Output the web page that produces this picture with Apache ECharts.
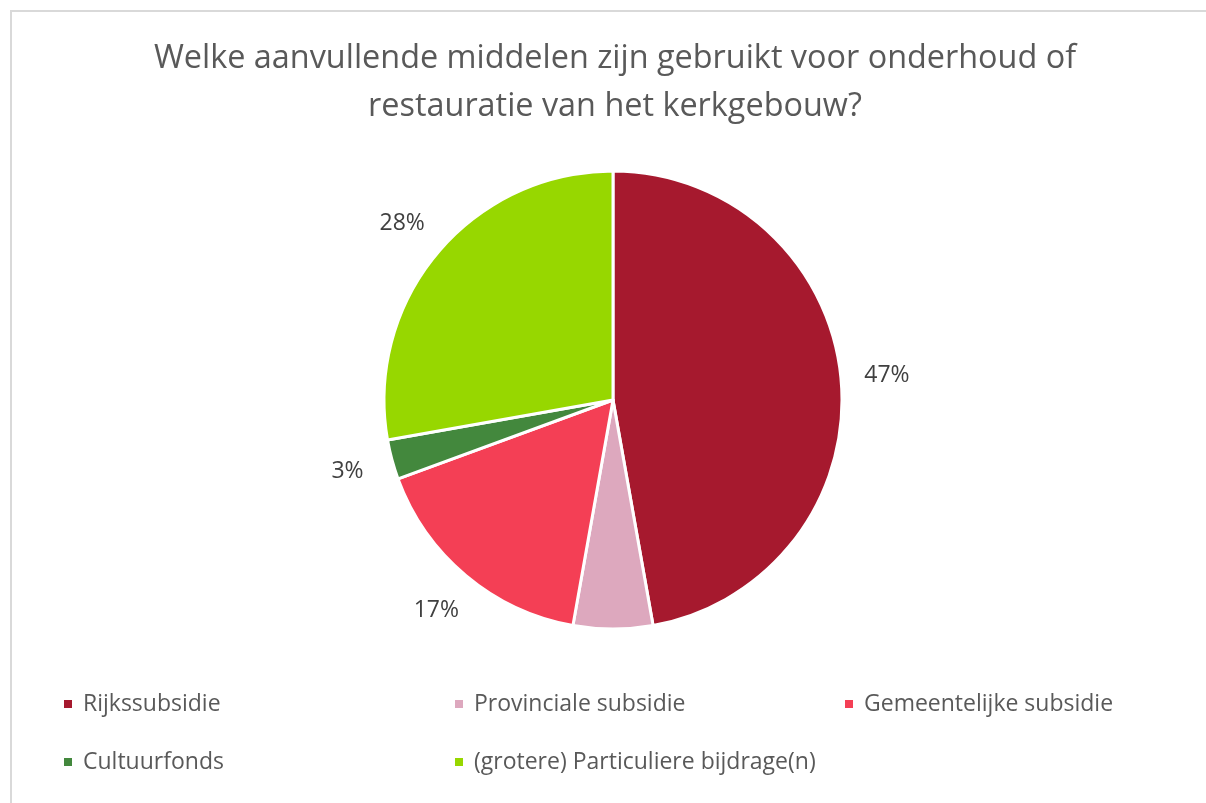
<!DOCTYPE html>
<html>
<head>
<meta charset="utf-8">
<script src="https://cdn.jsdelivr.net/npm/echarts@6/dist/echarts.min.js"></script>
<style>
  html, body { margin: 0; padding: 0; background: #fff; }
  #chart { width: 1206px; height: 803px; }
</style>
</head>
<body>
<div id="chart"></div>
<script>
// categories and shares (percent)
const categories = [
    'Rijkssubsidie',
    'Provinciale subsidie',
    'Gemeentelijke subsidie',
    'Cultuurfonds',
    '(grotere) Particuliere bijdrage(n)'
]
const shares = [47.2, 5.6, 16.6, 2.8, 27.8]
const showLabel = [true, false, true, true, true]
const colors = ['#a6192e', '#dda8be', '#f43f55', '#43883d', '#97d700']

const titleText = 'Welke aanvullende middelen zijn gebruikt voor onderhoud of\nrestauratie van het kerkgebouw?'
const font = '"Open Sans", "Noto Sans", sans-serif'

// legend laid out in 3 columns like the original
const legendCols = [62, 453, 843]
const legendRows = [689, 747]

const chart = echarts.init(document.getElementById('chart'))

const pieData = categories.map((name, i) => ({
    name: name,
    value: shares[i],
    itemStyle: { color: colors[i] }
}))

// transparent ring used only to place the % labels around the pie
const labelData = categories.map((name, i) => ({
    name: name,
    value: shares[i],
    itemStyle: { color: 'rgba(0,0,0,0)', borderWidth: 0 },
    label: { show: showLabel[i] }
}))

const option = {
    animation: false,
    backgroundColor: '#fff',
    title: {
        text: titleText,
        left: 615,
        top: 35,
        padding: 0,
        textAlign: 'center',
        textStyle: {
            fontFamily: font,
            fontSize: 32.4,
            fontWeight: 'normal',
            color: '#595959',
            lineHeight: 48
        }
    },
    legend: categories.map((name, i) => ({
        data: [name],
        left: legendCols[i % 3],
        top: legendRows[Math.floor(i / 3)],
        padding: 0,
        icon: 'rect',
        itemWidth: 10,
        itemHeight: 10,
        selectedMode: false,
        textStyle: {
            fontFamily: font,
            fontSize: 23,
            color: '#595959',
            lineHeight: 30,
            padding: [0, 0, 0, 5]
        }
    })),
    graphic: [{
        type: 'rect',
        shape: { x: 11, y: 11, width: 1400, height: 1000 },
        style: { fill: 'none', stroke: '#d9d9d9', lineWidth: 2 },
        silent: true
    }],
    series: [
        {
            type: 'pie',
            center: [613, 400],
            radius: 229,
            startAngle: 90,
            clockwise: true,
            data: pieData,
            label: { show: false },
            labelLine: { show: false },
            itemStyle: { borderColor: '#fff', borderWidth: 3 },
            emphasis: { disabled: true }
        },
        {
            type: 'pie',
            center: [613, 400],
            radius: [252, 292],
            startAngle: 90,
            clockwise: true,
            silent: true,
            data: labelData,
            label: {
                show: true,
                position: 'inside',
                formatter: p => Math.round(p.percent) + '%',
                fontFamily: font,
                fontSize: 23,
                color: '#404040'
            },
            labelLine: { show: false },
            emphasis: { disabled: true }
        }
    ]
}

chart.setOption(option)
</script>
</body>
</html>
